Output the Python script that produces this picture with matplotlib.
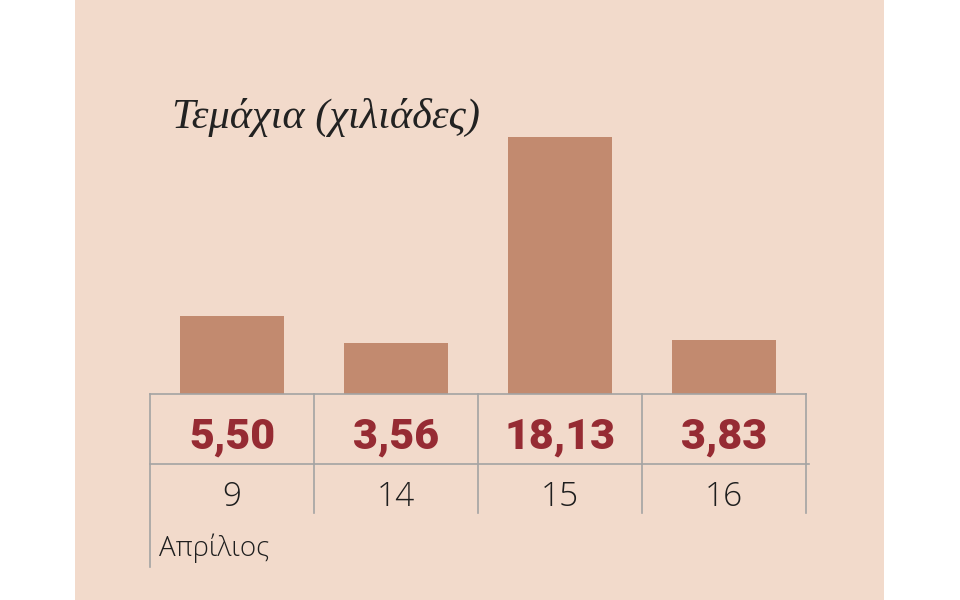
import matplotlib
matplotlib.use("Agg")
import matplotlib.pyplot as plt
from matplotlib.patches import Rectangle
from matplotlib.transforms import blended_transform_factory

# data
days = ["9", "14", "15", "16"]
values = [5.50, 3.56, 18.13, 3.83]
value_labels = ["5,50", "3,56", "18,13", "3,83"]
title = "Τεμάχια (χιλιάδες)"
month = "Απρίλιος"

W, H = 960, 600
def fx(p):
    return p / W
def fy(p):
    return 1 - p / H

fig = plt.figure(figsize=(9.6, 6), dpi=100)
fig.patch.set_facecolor("white")

# beige panel
fig.patches.append(Rectangle((fx(75), 0), fx(884 - 75), 1, transform=fig.transFigure,
                             facecolor="#f2dacb", edgecolor="none", zorder=-5))

# bar axes: x from 150px to 806px, baseline at 394px
ax = fig.add_axes([fx(150), fy(394), fx(806 - 150), (394 - 100) / H])
ax.set_zorder(2)
ax.set_facecolor("none")
ax.set_xlim(-0.5, 3.5)
ax.set_ylim(0, 294 / 14.2)
ax.axis("off")

x = range(len(values))
ax.bar(x, values, width=0.64, color="#c28a6f", zorder=2)

tr = blended_transform_factory(ax.transData, fig.transFigure)
grid = "#a3a3a3"

# table lines
ax.plot([-0.5, 3.5], [fy(394), fy(394)], transform=tr, color=grid, lw=1.2, clip_on=False, zorder=3)
ax.plot([-0.5, 3.52], [fy(464), fy(464)], transform=tr, color=grid, lw=1.2, clip_on=False, zorder=3)
for i in range(len(values) + 1):
    bottom = 567 if i == 0 else 513
    ax.plot([i - 0.5, i - 0.5], [fy(394), fy(bottom)], transform=tr, color=grid,
            lw=1.2, clip_on=False, zorder=3)

# value row and day row
for i, (lab, d) in enumerate(zip(value_labels, days)):
    ax.text(i, fy(437), lab, transform=tr, ha="center", va="center",
            fontsize=31, fontweight="black", color="#962b33", family="Roboto")
    ax.text(i, fy(497), d, transform=tr, ha="center", va="center",
            fontsize=24, fontweight="light", color="#1e1e1e", family="Open Sans")

fig.text(fx(159), fy(548), month, ha="left", va="center", fontsize=20,
         fontweight="light", color="#1e1e1e", family="Open Sans")

fig.text(fx(172), fy(128), title, ha="left", va="baseline", fontsize=30.5,
         style="italic", color="#222222", family="Liberation Serif")

fig.savefig("out.png", dpi=100, facecolor=fig.get_facecolor())
